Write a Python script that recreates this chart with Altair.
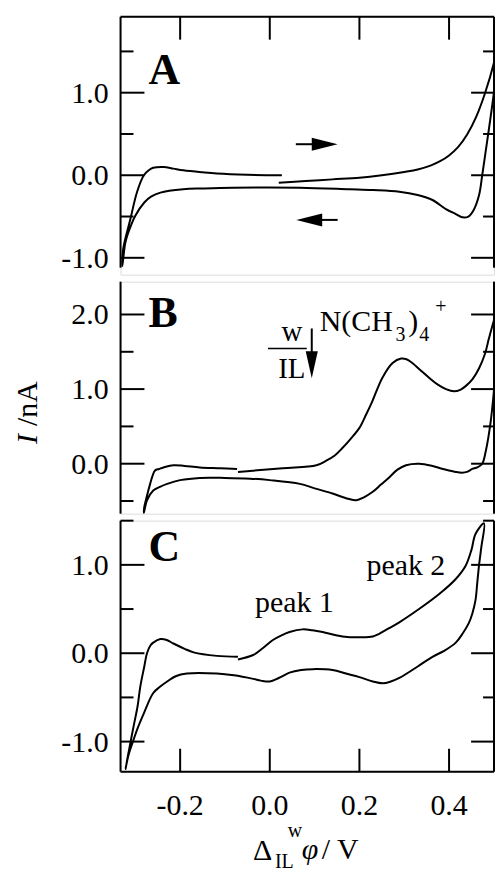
import altair as alt
import pandas as pd

# ---------------- data ----------------
X_DOMAIN = [-0.333, 0.5003]
X_TICKS = [-0.2, 0.0, 0.2, 0.4]
X_LABELS = ["-0.2", "0.0", "0.2", "0.4"]

# Panel A
A_x = [0.02, 0.08, 0.14, 0.20, 0.25, 0.30, 0.33, 0.36, 0.38, 0.40, 0.42, 0.44, 0.46, 0.48, 0.50, 0.518,
       0.509, 0.50, 0.49, 0.482, 0.474, 0.467, 0.455, 0.443, 0.43, 0.415, 0.393, 0.363, 0.33, 0.289, 0.23, 0.178,
       0.067, -0.082, -0.15, -0.193, -0.244, -0.265, -0.28, -0.30, -0.312, -0.322, -0.329,
       -0.327, -0.311, -0.296, -0.281, -0.27, -0.26, -0.237, -0.215, -0.193, -0.15, -0.118, -0.05, 0.027]
A_y = [-0.09, -0.07, -0.05, -0.03, 0.0, 0.04, 0.07, 0.12, 0.17, 0.24, 0.34, 0.49, 0.70, 0.99, 1.36, 1.84,
       1.45, 1.0, 0.60, 0.30, 0.0, -0.24, -0.42, -0.50, -0.51, -0.47, -0.41, -0.30, -0.24, -0.20, -0.18, -0.17,
       -0.15, -0.15, -0.16, -0.17, -0.21, -0.26, -0.33, -0.49, -0.64, -0.81, -1.10,
       -0.89, -0.53, -0.20, 0.0, 0.06, 0.09, 0.10, 0.08, 0.06, 0.035, 0.02, 0.005, 0.0]
A_Y_DOMAIN = [-1.2045, 1.92]
A_MAJOR = [-1.0, 0.0, 1.0]
A_LABELS = ["-1.0", "0.0", "1.0"]
A_MINOR = [-0.5, 0.5, 1.5]

# Panel B
B_x = [-0.071, 0.029, 0.104, 0.126, 0.145, 0.162, 0.18, 0.20, 0.215, 0.229, 0.251, 0.274, 0.293, 0.305, 0.318,
       0.335, 0.356, 0.375, 0.393, 0.411, 0.425, 0.437, 0.452, 0.467, 0.48, 0.489, 0.50, 0.511, 0.518,
       0.513, 0.504, 0.493, 0.482, 0.474, 0.463, 0.452, 0.44, 0.429, 0.415, 0.40, 0.38, 0.363, 0.333, 0.304,
       0.285, 0.267, 0.248, 0.229, 0.21, 0.193, 0.175, 0.14, 0.10, 0.067, 0.0, -0.044, -0.10, -0.156, -0.2,
       -0.229, -0.245, -0.26, -0.274, -0.281,
       -0.28, -0.274, -0.267, -0.262, -0.256, -0.247, -0.237, -0.215, -0.19, -0.156, -0.11, -0.073]
B_y = [-0.11, -0.06, -0.02, 0.04, 0.11, 0.21, 0.33, 0.48, 0.66, 0.84, 1.15, 1.35, 1.41, 1.40, 1.35,
       1.26, 1.15, 1.06, 1.0, 0.97, 0.99, 1.04, 1.13, 1.28, 1.47, 1.68, 1.92, 2.13, 2.35,
       1.90, 1.24, 0.57, 0.17, 0.0, -0.05, -0.07, -0.11, -0.12, -0.11, -0.09, -0.06, -0.03, 0.0, -0.02,
       -0.08, -0.18, -0.28, -0.38, -0.45, -0.49, -0.47, -0.40, -0.33, -0.27, -0.22, -0.20, -0.19, -0.19, -0.22,
       -0.27, -0.31, -0.36, -0.49, -0.66,
       -0.58, -0.43, -0.27, -0.17, -0.09, -0.07, -0.05, -0.02, -0.03, -0.05, -0.06, -0.07]
B_Y_DOMAIN = [-0.67, 2.44]
B_MAJOR = [0.0, 1.0, 2.0]
B_LABELS = ["0.0", "1.0", "2.0"]
B_MINOR = [-0.5, 0.5, 1.5]

# Panel C
C_x = [-0.071, -0.037, -0.015, 0.007, 0.025, 0.044, 0.073, 0.095, 0.118, 0.162, 0.207, 0.23, 0.244, 0.265,
       0.289, 0.333, 0.378, 0.415, 0.437, 0.45, 0.459, 0.478,
       0.472, 0.467, 0.463, 0.459, 0.452, 0.444, 0.43, 0.415, 0.39, 0.363, 0.33, 0.289, 0.27, 0.252, 0.23,
       0.2, 0.17, 0.14, 0.096, 0.07, 0.044, 0.02, 0.0, -0.02, -0.037, -0.08, -0.118, -0.185, -0.21, -0.229,
       -0.245, -0.26, -0.281, -0.295, -0.304, -0.315, -0.322,
       -0.315, -0.304, -0.295, -0.289, -0.28, -0.274, -0.266, -0.26, -0.244, -0.23, -0.215, -0.19, -0.17,
       -0.118, -0.071]
C_y = [-0.07, -0.02, 0.06, 0.15, 0.20, 0.24, 0.27, 0.26, 0.24, 0.19, 0.18, 0.19, 0.22, 0.28,
       0.35, 0.50, 0.67, 0.84, 0.99, 1.17, 1.35, 1.47,
       1.20, 1.0, 0.80, 0.60, 0.45, 0.34, 0.22, 0.12, 0.03, -0.04, -0.15, -0.28, -0.32, -0.34, -0.32,
       -0.27, -0.23, -0.19, -0.18, -0.19, -0.22, -0.28, -0.32, -0.31, -0.29, -0.25, -0.23, -0.23, -0.26, -0.32,
       -0.38, -0.45, -0.68, -0.85, -0.98, -1.15, -1.31,
       -1.12, -0.83, -0.60, -0.38, -0.15, 0.0, 0.09, 0.12, 0.16, 0.15, 0.11, 0.05, 0.01,
       -0.03, -0.04]
C_Y_DOMAIN = [-1.34, 1.5]
C_MAJOR = [-1.0, 0.0, 1.0]
C_LABELS = ["-1.0", "0.0", "1.0"]
C_MINOR = [-0.5, 0.5, 1.5]

# ---------------- styling ----------------
W = 375
SERIF = "Liberation Serif"
LABEL_SIZE = 30
TEXT_SIZE = 30
LETTER_SIZE = 44
DUMMY = pd.DataFrame({"d": [0]})

xscale = alt.Scale(domain=X_DOMAIN, nice=False, zero=False)


def txt(s, x, y, size=TEXT_SIZE, weight="normal", style="normal", angle=0, align="left"):
    return alt.Chart(DUMMY).mark_text(
        text=s, font=SERIF, fontSize=size, fontWeight=weight, fontStyle=style,
        angle=angle, align=align, baseline="alphabetic", color="black"
    ).encode(x=alt.value(x), y=alt.value(y))


def hrule(x1, x2, y, width=2, opacity=1):
    return alt.Chart(DUMMY).mark_rule(color="black", strokeWidth=width, opacity=opacity).encode(
        x=alt.value(x1), x2=alt.value(x2), y=alt.value(y))


def vrule(x, y1, y2, width=2):
    return alt.Chart(DUMMY).mark_rule(color="black", strokeWidth=width).encode(
        x=alt.value(x), y=alt.value(y1), y2=alt.value(y2))


def head(path, x, y, size):
    return alt.Chart(DUMMY).mark_point(
        shape=path, filled=True, color="black", opacity=1, strokeWidth=0, size=size
    ).encode(x=alt.value(x), y=alt.value(y))


def panel(xs, ys, ydom, major, labels, minor, H, HF, xmode, extra):
    """H: plot height, HF: height of the framed part (from the top)."""
    yscale = alt.Scale(domain=ydom, nice=False, zero=False)
    df = pd.DataFrame({"x": xs, "y": ys, "i": list(range(len(xs)))})
    line = alt.Chart(df).mark_line(color="black", strokeWidth=2, interpolate="catmull-rom", clip=True).encode(
        x=alt.X("x:Q", scale=xscale, axis=None),
        y=alt.Y("y:Q", scale=yscale, axis=None),
        order="i:Q",
    )
    layers = [line]

    def yt(vals, x1, x2):
        return alt.Chart(pd.DataFrame({"v": vals})).mark_rule(color="black", strokeWidth=2).encode(
            y=alt.Y("v:Q", scale=yscale, axis=None), x=alt.value(x1), x2=alt.value(x2))

    layers += [yt(major, 0, 24), yt(minor, 0, 13), yt(major, W - 23, W), yt(minor, W - 11, W)]
    layers.append(alt.Chart(pd.DataFrame({"v": major, "lab": labels})).mark_text(
        font=SERIF, fontSize=LABEL_SIZE, align="right", baseline="alphabetic", dy=10, color="black"
    ).encode(y=alt.Y("v:Q", scale=yscale, axis=None), x=alt.value(-12), text="lab:N"))
    if xmode == "top":
        layers.append(alt.Chart(pd.DataFrame({"v": X_TICKS})).mark_rule(color="black", strokeWidth=2).encode(
            x=alt.X("v:Q", scale=xscale, axis=None), y=alt.value(0), y2=alt.value(23)))
        layers.append(hrule(0, W, 0))
        layers.append(hrule(-112, -111, -6, width=1, opacity=0))  # layout anchor
    if xmode == "bottom":
        layers.append(alt.Chart(pd.DataFrame({"v": X_TICKS})).mark_rule(color="black", strokeWidth=2).encode(
            x=alt.X("v:Q", scale=xscale, axis=None), y=alt.value(H - 23), y2=alt.value(H)))
        layers.append(hrule(0, W, H))
        layers.append(alt.Chart(pd.DataFrame({"v": X_TICKS, "lab": X_LABELS})).mark_text(
            font=SERIF, fontSize=LABEL_SIZE, align="center", baseline="alphabetic", color="black"
        ).encode(x=alt.X("v:Q", scale=xscale, axis=None), y=alt.value(H + 44), text="lab:N"))
    layers += [vrule(0, 0, HF), vrule(W, 0, HF)]
    layers += extra
    return alt.layer(*layers).properties(width=W, height=H)


RIGHT_HEAD = "M-1,-0.5L1,0L-1,0.5Z"
LEFT_HEAD = "M1,-0.5L-1,0L1,0.5Z"
DOWN_HEAD = "M-0.45,-1L0,1L0.45,-1Z"

extra_A = [
    txt("A", 28, 68, size=LETTER_SIZE, weight="bold"),
    hrule(176, 195, 128), head(RIGHT_HEAD, 205, 128, 676),
    hrule(200, 218, 204), head(LEFT_HEAD, 189.5, 204, 676),
]
extra_B = [
    txt("B", 28, 46, size=LETTER_SIZE, weight="bold"),
    txt("w", 172, 60, size=29, align="center"),
    hrule(148, 187, 67, width=1.5),
    txt("IL", 172, 97, size=29, align="center"),
    vrule(192, 47, 72), head(DOWN_HEAD, 192, 83.5, 729),
    txt("N(CH", 200, 50),
    txt("3", 276, 60, size=20),
    txt(")", 289, 50),
    txt("4", 300, 60, size=20),
    txt("+", 316, 31, size=20),
    txt("I", -84, 163, style="italic", angle=270),
    txt("/nA", -84, 145, angle=270),
]
extra_C = [
    txt("C", 28, 40, size=LETTER_SIZE, weight="bold"),
    txt("peak 1", 135, 92),
    txt("peak 2", 247, 55),
    txt("\u0394", 133, 341),
    txt("IL", 155, 349, size=20),
    txt("w", 168, 318, size=20),
    txt("\u03c6", 182, 340, style="italic"),
    txt("/ V", 202, 340),
]

pA = panel(A_x, A_y, A_Y_DOMAIN, A_MAJOR, A_LABELS, A_MINOR, 259, 252, "top", extra_A)
pB = panel(B_x, B_y, B_Y_DOMAIN, B_MAJOR, B_LABELS, B_MINOR, 233, 233, "none", extra_B)
pC = panel(C_x, C_y, C_Y_DOMAIN, C_MAJOR, C_LABELS, C_MINOR, 252, 252, "bottom", extra_C)

chart = alt.vconcat(pA, pB, pC, spacing=7, bounds="flush").properties(
    padding={"left": 0, "top": 0, "right": 0, "bottom": 0}
).configure_view(strokeWidth=0, stroke="transparent").configure(background="white")

chart.save("out.html", embed_options={"renderer": "svg", "actions": False})
